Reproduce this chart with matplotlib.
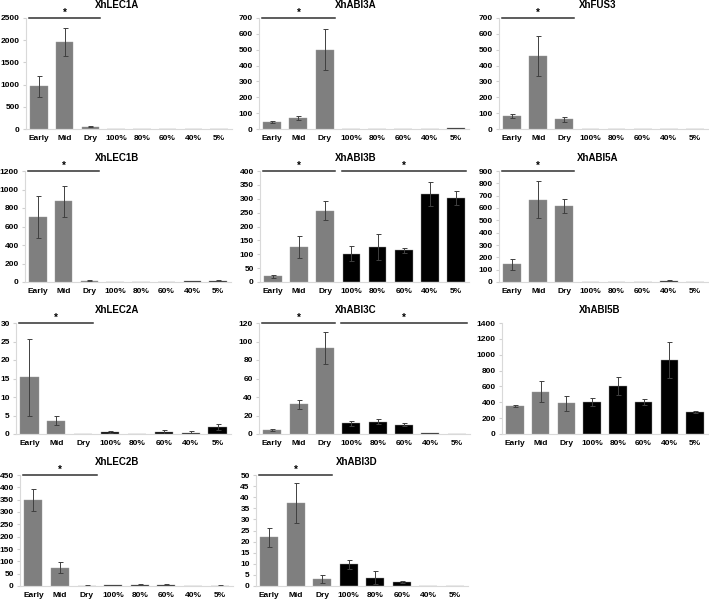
import matplotlib
matplotlib.use("Agg")
import matplotlib.pyplot as plt

plt.rcParams['font.family'] = ['Liberation Sans', 'DejaVu Sans']
plt.rcParams['font.weight'] = 'bold'

# Categorías del eje x
categorias = ["Early", "Mid", "Dry", "100%", "80%", "60%", "40%", "5%"]

# Valores medios y errores de cada gen
lec1a = [960, 1950, 50, 2, 2, 2, 2, 3]
lec1a_err = [240, 315, 12, 0, 0, 0, 0, 0]
abi3a = [44, 69, 500, 1, 1, 1, 1, 5]
abi3a_err = [8, 10, 130, 0, 0, 0, 0, 2]
fus3 = [80, 460, 60, 2, 2, 1, 0, 0]
fus3_err = [12, 125, 18, 0, 0, 0, 0, 0]
lec1b = [703, 872, 15, 2, 3, 2, 12, 12]
lec1b_err = [227, 170, 5, 0, 0, 0, 4, 6]
abi3b = [20, 126, 257, 102, 126, 114, 318, 303]
abi3b_err = [6, 40, 35, 26, 48, 10, 44, 26]
abi5a = [143, 668, 616, 1, 1, 1, 10, 1]
abi5a_err = [46, 150, 58, 0, 0, 0, 3, 0]
lec2a = [15.3, 3.6, 0, 0.5, 0, 0.5, 0.4, 1.8]
lec2a_err = [10.5, 1.2, 0, 0.2, 0, 0.5, 0.4, 0.8]
abi3c = [4.3, 32, 92.7, 11.5, 13.3, 10, 0.8, 0]
abi3c_err = [1.5, 5, 17.5, 2.5, 2.5, 1.5, 0.3, 0]
abi5b = [354, 536, 390, 405, 607, 405, 936, 274]
abi5b_err = [10, 130, 95, 55, 115, 40, 230, 15]
lec2b = [349, 74, 2, 3, 5, 5, 0, 2]
lec2b_err = [46, 22, 2, 1, 2, 2, 0, 1]
abi3d = [22, 37.5, 3.3, 9.8, 3.8, 1.9, 0, 0]
abi3d_err = [4.3, 9, 1.8, 2, 3, 0.4, 0, 0]

# titulo, valores, errores, maximo y, paso, lineas de significancia,
# caja en pixeles (izq, arriba, der, abajo), x del titulo
paneles = [
    ("XhLEC1A", lec1a, lec1a_err, 2500, 500, [(0, 2)], (26, 18, 232, 129), 117),
    ("XhABI3A", abi3a, abi3a_err, 700, 100, [(0, 2)], (259, 18, 469, 129), 356),
    ("XhFUS3", fus3, fus3_err, 700, 100, [(0, 2)], (499, 18, 708, 129), 598),
    ("XhLEC1B", lec1b, lec1b_err, 1200, 200, [(0, 2)], (25, 171, 231, 282), 117),
    ("XhABI3B", abi3b, abi3b_err, 400, 50, [(0, 2), (3, 7)], (260, 171, 469, 282), 356),
    ("XhABI5A", abi5a, abi5a_err, 900, 100, [(0, 2)], (499, 171, 708, 282), 598),
    ("XhLEC2A", lec2a, lec2a_err, 30, 5, [(0, 2)], (16, 323, 231, 434), 117),
    ("XhABI3C", abi3c, abi3c_err, 120, 20, [(0, 2), (3, 7)], (259, 323, 470, 434), 356),
    ("XhABI5B", abi5b, abi5b_err, 1400, 200, [], (502, 323, 708, 434), 600),
    ("XhLEC2B", lec2b, lec2b_err, 450, 50, [(0, 2)], (20, 475, 233, 586), 117),
    ("XhABI3D", abi3d, abi3d_err, 50, 5, [(0, 2)], (256, 475, 468, 586), 357),
]

W, H = 709, 601
fig = plt.figure(figsize=(W / 100, H / 100), dpi=100)

colores = ["#7f7f7f"] * 3 + ["#000000"] * 5
x = list(range(len(categorias)))

for titulo, valores, errores, ymax, paso, lineas, caja, xt in paneles:
    izq, arriba, der, abajo = caja
    ax = fig.add_axes([izq / W, 1 - abajo / H, (der - izq) / W, (abajo - arriba) / H])
    ax.bar(x, valores, width=0.68, color=colores, edgecolor="#9a9a9a", linewidth=0.3)
    ax.errorbar(x, valores, yerr=errores, fmt="none", ecolor="#404040",
                elinewidth=0.7, capsize=1.8, capthick=0.7)
    ax.set_xlim(-0.5, 7.5)
    ax.set_ylim(0, ymax)
    ax.set_yticks(range(0, ymax + 1, paso))
    ax.set_xticks(x)
    ax.set_xticklabels(categorias)
    ax.tick_params(axis="x", length=0, labelsize=6, pad=4)
    ax.tick_params(axis="y", length=2.5, color="#d0d0d0", labelsize=6, pad=2)
    for lado in ["top", "right"]:
        ax.spines[lado].set_visible(False)
    ax.spines["left"].set_color("#d9d9d9")
    ax.spines["bottom"].set_color("#d9d9d9")
    # el titulo va centrado sobre el area del grafico, no sobre los ejes
    fig.text(xt / W, 1 - (arriba - 13) / H, titulo, ha="center", va="center",
             fontsize=7, fontweight="bold")
    for ini, fin in lineas:
        ax.plot([ini - 0.38, fin + 0.38], [ymax, ymax], color="#303030",
                linewidth=1.1, clip_on=False)
        ax.text((ini + fin) / 2, ymax * 1.005, "*", ha="center", va="bottom",
                fontsize=7, fontweight="bold", clip_on=False)

fig.savefig("out.png", dpi=100)
